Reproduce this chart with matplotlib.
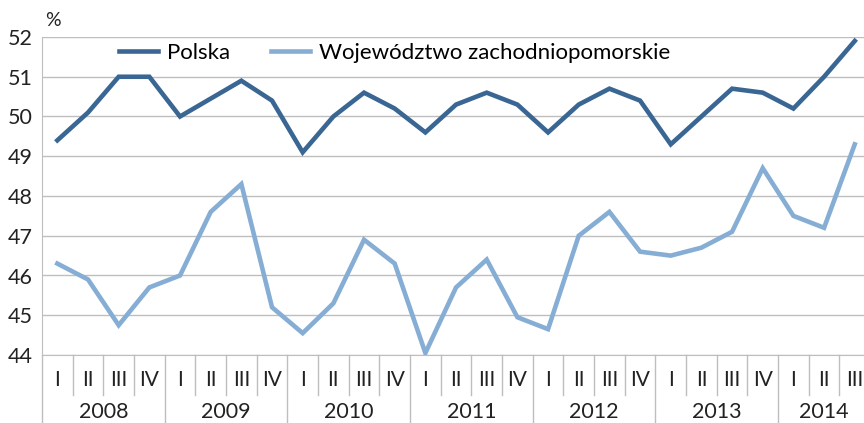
import matplotlib.pyplot as plt
import matplotlib.transforms as mtransforms

plt.rcParams['font.family'] = ['Lato', 'DejaVu Sans']

quarters = ['I', 'II', 'III', 'IV'] * 6 + ['I', 'II', 'III']
years = ['2008', '2009', '2010', '2011', '2012', '2013', '2014']
polska = [49.4, 50.1, 51.0, 51.0, 50.0, 50.45, 50.9, 50.4, 49.1, 50.0, 50.6, 50.2,
          49.6, 50.3, 50.6, 50.3, 49.6, 50.3, 50.7, 50.4, 49.3, 50.0, 50.7, 50.6,
          50.2, 51.0, 51.9]
zachodniopomorskie = [46.3, 45.9, 44.75, 45.7, 46.0, 47.6, 48.3, 45.2, 44.55, 45.3, 46.9, 46.3,
                      44.05, 45.7, 46.4, 44.95, 44.65, 47.0, 47.6, 46.6, 46.5, 46.7, 47.1, 48.7,
                      47.5, 47.2, 49.3]

dark = '#3A6694'
light = '#86AED5'
grid = '#BEBEBE'
txt = '#222222'

W, H = 864, 423
fig = plt.figure(figsize=(W / 100, H / 100), dpi=100)
left, right, top, bottom = 42, 864, 37, 355
ax = fig.add_axes([left / W, 1 - bottom / H, (right - left) / W, (bottom - top) / H])

x = list(range(len(polska)))
ax.plot(x, polska, color=dark, lw=3.3, label='Polska', solid_joinstyle='miter')
ax.plot(x, zachodniopomorskie, color=light, lw=3.3, label='Województwo zachodniopomorskie',
        solid_joinstyle='miter')

ax.set_ylim(44, 52)
ax.set_xlim(-0.5, -0.5 + (right - left) / 30.67)
ax.set_yticks(range(44, 53))
ax.yaxis.grid(True, color=grid, lw=1.0)
ax.set_axisbelow(True)
ax.tick_params(axis='y', length=0, pad=7, labelsize=15.5, colors=txt)
ax.set_xticks([])
for s in ['top', 'right']:
    ax.spines[s].set_visible(False)
ax.spines['left'].set_color(grid)
ax.spines['bottom'].set_color(grid)

# category axis: quarters and years
trans = mtransforms.blended_transform_factory(ax.transData, ax.transAxes)
h = bottom - top
for i, q in enumerate(quarters):
    ax.text(i, -25 / h, q, transform=trans, ha='center', va='center', fontsize=15, color=txt)
for j, yr in enumerate(years):
    cx = 4 * j + 1.5 if j < 6 else 25.0
    ax.text(cx, -57 / h, yr, transform=trans, ha='center', va='center', fontsize=15.5, color=txt)
for k in range(1, len(quarters)):
    y1 = -68 / h if k % 4 == 0 else -40 / h
    ax.plot([k - 0.5, k - 0.5], [0, y1], transform=trans, color=grid, lw=1.0, clip_on=False)
ax.plot([-0.5, -0.5], [0, -68 / h], transform=trans, color=grid, lw=1.0, clip_on=False)

fig.text(45 / W, 1 - 20 / H, '%', ha='left', va='center', fontsize=14, color=txt)

ax.legend(loc='upper left', bbox_to_anchor=(57 / (right - left), 1.045), ncol=2, frameon=False,
          fontsize=16, handlelength=1.75, handletextpad=0.4, columnspacing=1.85)

fig.savefig('out.png', dpi=100)
